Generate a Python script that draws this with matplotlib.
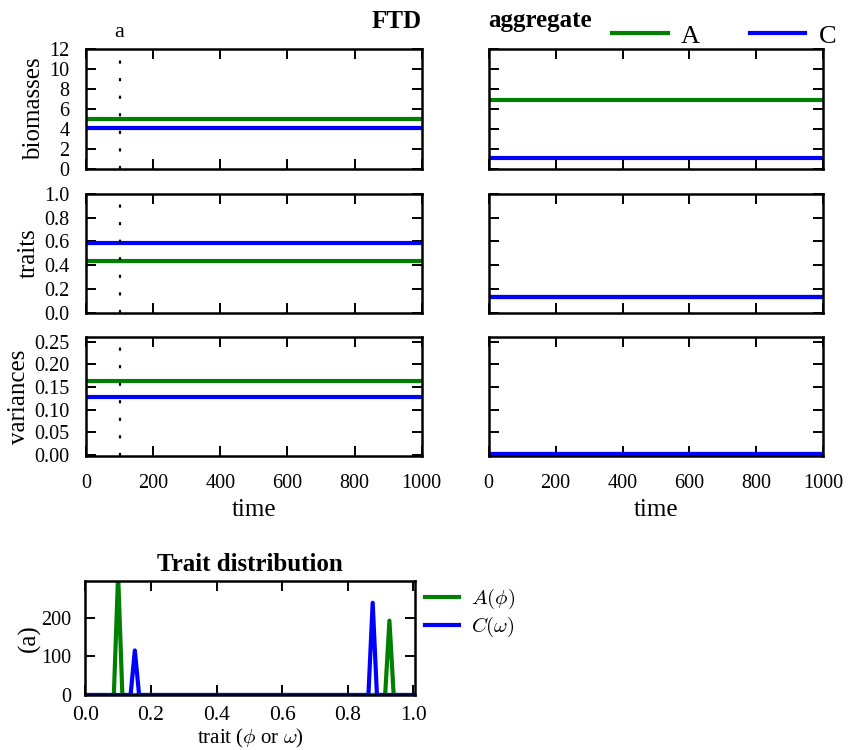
import matplotlib
matplotlib.use("Agg")
import matplotlib.pyplot as plt
import matplotlib.transforms as mtransforms

plt.rcParams['font.family'] = 'serif'
plt.rcParams['font.serif'] = ['Liberation Serif', 'DejaVu Serif']
plt.rcParams['mathtext.fontset'] = 'cm'

# ---------------- data ----------------
time = [0, 1000]
t_a = 100

ftd_biomass_A = [4.95, 4.95]
ftd_biomass_C = [4.05, 4.05]
ftd_trait_A = [0.435, 0.435]
ftd_trait_C = [0.59, 0.59]
ftd_var_A = [0.163, 0.163]
ftd_var_C = [0.128, 0.128]

agg_biomass_A = [6.9, 6.9]
agg_biomass_C = [1.03, 1.03]
agg_trait_A = [0.13, 0.13]
agg_trait_C = [0.13, 0.13]
agg_var_A = [0.003, 0.003]
agg_var_C = [0.003, 0.003]

A_trait = [0.0, 0.087, 0.100, 0.113, 0.914, 0.927, 0.940, 1.0]
A_density = [0, 0, 310, 0, 0, 192, 0, 0]
C_trait = [0.0, 0.138, 0.151, 0.164, 0.863, 0.876, 0.889, 1.0]
C_density = [0, 0, 115, 0, 0, 238, 0, 0]

green = '#008000'
blue = '#0000ff'
LW = 3.0

fig = plt.figure(figsize=(8.57, 7.5), dpi=100)
W, H = 857.0, 750.0


def add_ax(x0, y0, x1, y1):
    return fig.add_axes([x0 / W, 1 - y1 / H, (x1 - x0) / W, (y1 - y0) / H])


lx0, lx1 = 86, 421.7
rx0, rx1 = 488.7, 823.3
rows = [(49.3, 168.7), (194, 312.7), (336.7, 456)]

left_data = [(ftd_biomass_A, ftd_biomass_C), (ftd_trait_A, ftd_trait_C), (ftd_var_A, ftd_var_C)]
right_data = [(agg_biomass_A, agg_biomass_C), (agg_trait_A, agg_trait_C), (agg_var_A, agg_var_C)]
ylabels = ['biomasses', 'traits', 'variances']
ylims = [(0, 12), (0, 1.0), (-0.002, 0.261)]
yticks = [[0, 2, 4, 6, 8, 10, 12], [0, 0.2, 0.4, 0.6, 0.8, 1.0],
          [0, 0.05, 0.10, 0.15, 0.20, 0.25]]
yfmt = [lambda v: '%d' % v, lambda v: '%.1f' % v, lambda v: '%.2f' % v]

axes_l, axes_r = [], []
for i, (y0, y1) in enumerate(rows):
    for side in ('l', 'r'):
        if side == 'l':
            ax = add_ax(lx0, y0, lx1, y1)
            dA, dC = left_data[i]
        else:
            ax = add_ax(rx0, y0, rx1, y1)
            dA, dC = right_data[i]
        ax.plot(time, dA, color=green, lw=LW, solid_capstyle='butt')
        ax.plot(time, dC, color=blue, lw=LW, solid_capstyle='butt')
        if side == 'l':
            ax.axvline(t_a, color='black', lw=1.6, linestyle=(0, (1.4, 6.5)))
        ax.set_xlim(0, 1000)
        ax.set_ylim(*ylims[i])
        ax.set_xticks([0, 200, 400, 600, 800, 1000])
        ax.set_yticks(yticks[i])
        ax.tick_params(direction='in', top=True, right=True, length=7, width=1.4)
        ax.tick_params(axis='y', labelsize=14.5, pad=12)
        ax.tick_params(axis='x', labelsize=14.5, pad=13)
        for s in ax.spines.values():
            s.set_linewidth(1.8)
        if side == 'l':
            ax.set_yticklabels([yfmt[i](v) for v in yticks[i]])
            ax.set_ylabel(ylabels[i], fontsize=18, labelpad=3)
        else:
            ax.set_yticklabels([])
        if i < 2:
            ax.set_xticklabels([])
        else:
            ax.set_xlabel('time', fontsize=18, labelpad=4)
        (axes_l if side == 'l' else axes_r).append(ax)

# annotations on top row
ax0 = axes_l[0]
trans = mtransforms.blended_transform_factory(ax0.transData, ax0.transAxes)
ax0.text(t_a, 1.105, 'a', transform=trans, ha='center', va='baseline', fontsize=16)
ax0.text(1.0, 1.176, 'FTD', transform=ax0.transAxes, ha='right', va='baseline',
         fontsize=18, fontweight='bold')
axes_r[0].text(0.0, 1.184, 'aggregate', transform=axes_r[0].transAxes, ha='left',
               va='baseline', fontsize=18, fontweight='bold')

hA, = axes_r[0].plot([], [], color=green, lw=LW)
hC, = axes_r[0].plot([], [], color=blue, lw=LW)
fig.legend([hA, hC], ['A', 'C'], ncol=2, loc='lower right',
           bbox_to_anchor=(0.991, 0.919), frameon=False, fontsize=19,
           borderpad=0, handlelength=2.1, handletextpad=0.5, columnspacing=1.9)

# ---------------- trait distribution ----------------
axd = add_ax(85.3, 580.7, 415, 695)
axd.plot(A_trait, A_density, color=green, lw=LW, label=r'$A(\phi)$')
axd.plot(C_trait, C_density, color=blue, lw=LW, label=r'$C(\omega)$')
axd.set_xlim(0, 1.005)
axd.set_ylim(0, 295)
axd.set_xticks([0, 0.2, 0.4, 0.6, 0.8, 1.0])
axd.set_xticklabels(['%.1f' % v for v in [0, 0.2, 0.4, 0.6, 0.8, 1.0]])
axd.set_yticks([0, 100, 200])
axd.tick_params(direction='in', top=True, right=True, length=7, width=1.4)
axd.tick_params(axis='y', labelsize=14.5, pad=10)
axd.tick_params(axis='x', labelsize=15.5, pad=8)
for s in axd.spines.values():
    s.set_linewidth(1.8)
axd.set_title('Trait distribution', fontsize=18, fontweight='bold', pad=7)
axd.set_xlabel(r'trait ($\phi$ or $\omega$)', fontsize=15, labelpad=1)
axd.set_ylabel('(a)', fontsize=18, labelpad=0.5)
axd.legend(loc='upper left', bbox_to_anchor=(1.03, 0.945), frameon=False, fontsize=15,
           borderpad=0, borderaxespad=0, handlelength=1.65, handletextpad=0.55,
           labelspacing=0.2)

fig.savefig('out.png', dpi=100)
